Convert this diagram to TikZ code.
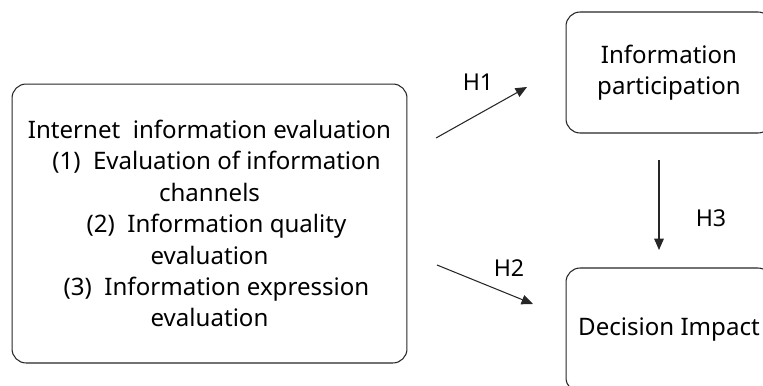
\documentclass[tikz,border=0pt]{standalone}
\usepackage{fontspec}
\setmainfont{Noto Sans}
\usetikzlibrary{arrows.meta, positioning}

\begin{document}
\begin{tikzpicture}[x=0.02cm, y=-0.02cm,
        box/.style={draw=black!85, rounded corners=8pt, line width=0.6pt, align=center, inner sep=0pt, font=\fontsize{13.7}{17.9}\selectfont},
        arr/.style={-{Triangle[length=6.5pt, width=5.5pt]}, line width=0.6pt, black!85},
        lab/.style={font=\fontsize{13.2}{15}\selectfont}]
        \useasboundingbox (0,0) rectangle (763,385);
        \clip (0,0) rectangle (763,385);

        % Left box
        \node[box, minimum width=7.9cm, minimum height=5.58cm] (eval) at (209.5,223.5) {Internet\ \ information evaluation\\
            \hspace*{0.28cm}(1)\ \ Evaluation of information\\
            channels\\
            \hspace*{0.28cm}(2)\ \ Information quality\\
            evaluation\\
            \hspace*{0.28cm}(3)\ \ Information expression\\
            evaluation};

        % Right boxes
        \node[box, minimum width=4.12cm, minimum height=2.42cm] (part) at (669,72.5) {Information\\participation};
        \node[box, minimum width=4.12cm, minimum height=2.48cm] (impact) at (669,330) {Decision Impact};

        % Arrows
        \coordinate (h1a) at (436,138);
        \coordinate (h1b) at (527,87);
        \coordinate (h2a) at (437,265);
        \coordinate (h2b) at (533,304);
        \coordinate (h3a) at (659,160);
        \coordinate (h3b) at (659,250);
        \draw[arr] (h1a) -- (h1b);
        \draw[arr] (h2a) -- (h2b);
        \draw[arr] (h3a) -- (h3b);

        % Labels
        \node[lab] (h1) at (478,82) {H1};
        \node[lab] (h2) at (509,268) {H2};
        \node[lab] (h3) at (711,218) {H3};
    \end{tikzpicture}
\end{document}
